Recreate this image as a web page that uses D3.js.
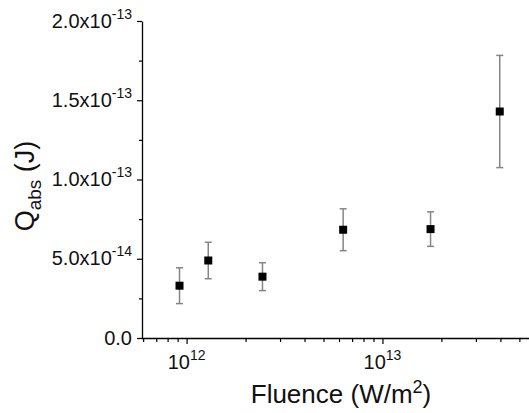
<!DOCTYPE html>
<html>
<head>
<meta charset="utf-8">
<script src="https://cdn.jsdelivr.net/npm/d3@7"></script>
<style>
  html, body { margin: 0; padding: 0; background: #fff; }
  svg { display: block; font-family: "Liberation Sans", Arial, sans-serif; }
</style>
</head>
<body>
<div id="chart"></div>
<script>
// 데이터
const fluence = [9.2e11, 1.29e12, 2.44e12, 6.3e12, 1.76e13, 3.97e13];
const qabs = [3.30e-14, 4.89e-14, 3.87e-14, 6.83e-14, 6.87e-14, 1.429e-13];
const qerr = [1.13e-14, 1.15e-14, 0.88e-14, 1.32e-14, 1.09e-14, 3.54e-14];

const yTicks = [0, 5e-14, 1e-13, 1.5e-13, 2e-13];
const yTickMant = ["0.0", "5.0x10", "1.0x10", "1.5x10", "2.0x10"];
const yTickExp = ["", "-14", "-13", "-13", "-13"];
const yMinor = [2.5e-14, 7.5e-14, 1.25e-13, 1.75e-13];
const xTicks = [1e12, 1e13];
const xTickExp = ["12", "13"];

const width = 529, height = 413;

const svg = d3.select("#chart").append("svg")
  .attr("width", width)
  .attr("height", height);

const x = d3.scaleLog().domain([5.85e11, 5.6e13]).range([141, 529]);
const y = d3.scaleLinear().domain([0, 2e-13]).range([338, 21]);

// 작은 눈금 (x: 각 decade의 2..9)
const xMinor = [];
for (let e = 11; e <= 13; e++) {
  for (let m = 2; m <= 9; m++) {
    const v = m * Math.pow(10, e);
    if (v > x.domain()[0] && v < x.domain()[1]) xMinor.push(v);
  }
}

// x 축
const gx = svg.append("g").attr("transform", "translate(0,338)");
gx.call(d3.axisBottom(x).tickValues(xMinor).tickSize(4).tickSizeOuter(0).tickFormat(""));
gx.call(g => g.select(".domain").remove());
gx.append("g").call(d3.axisBottom(x).tickValues(xTicks).tickSize(6).tickSizeOuter(0).tickFormat(""));
gx.selectAll(".domain").attr("stroke", "#000").attr("stroke-width", 1.3);
gx.selectAll(".tick line").attr("stroke", "#000").attr("stroke-width", 1.2);

xTicks.forEach((v, i) => {
  const t = svg.append("text")
    .attr("x", x(v))
    .attr("y", 369)
    .attr("text-anchor", "middle")
    .attr("font-size", 20)
    .attr("fill", "#111");
  t.append("tspan").text("10");
  t.append("tspan").attr("dy", -9).attr("font-size", 14).text(xTickExp[i]);
});

// y 축
const gy = svg.append("g").attr("transform", "translate(142,0)");
gy.call(d3.axisLeft(y).tickValues(yMinor).tickSize(3).tickSizeOuter(0).tickFormat(""));
gy.call(g => g.select(".domain").remove());
gy.append("g").call(d3.axisLeft(y).tickValues(yTicks).tickSize(5).tickSizeOuter(0).tickFormat(""));
gy.selectAll(".domain").attr("stroke", "#000").attr("stroke-width", 1.3);
gy.selectAll(".tick line").attr("stroke", "#000").attr("stroke-width", 1.2);

yTicks.forEach((v, i) => {
  const t = svg.append("text")
    .attr("x", 132)
    .attr("y", y(v) + 6.5)
    .attr("text-anchor", "end")
    .attr("font-size", 20)
    .attr("fill", "#111");
  t.append("tspan").text(yTickMant[i]);
  if (yTickExp[i]) t.append("tspan").attr("dy", -9).attr("font-size", 14).text(yTickExp[i]);
});

// 축 제목
const yt = svg.append("text")
  .attr("transform", "translate(34,186) rotate(-90)")
  .attr("text-anchor", "middle")
  .attr("font-size", 27)
  .attr("fill", "#111");
yt.append("tspan").text("Q");
yt.append("tspan").attr("dy", 7).attr("font-size", 19).text("abs");
yt.append("tspan").attr("dy", -7).text(" (J)");

const xt = svg.append("text")
  .attr("x", 341)
  .attr("y", 403)
  .attr("text-anchor", "middle")
  .attr("font-size", 26)
  .attr("fill", "#111");
xt.append("tspan").text("Fluence (W/m");
xt.append("tspan").attr("dy", -10).attr("font-size", 18).text("2");
xt.append("tspan").attr("dy", 10).text(")");

// 오차 막대
const pts = fluence.map((f, i) => ({ f, q: qabs[i], e: qerr[i] }));
const eb = svg.append("g").attr("stroke", "#858585").attr("stroke-width", 1.5);
eb.selectAll("line.bar").data(pts).join("line")
  .attr("class", "bar")
  .attr("x1", d => x(d.f)).attr("x2", d => x(d.f))
  .attr("y1", d => y(d.q + d.e)).attr("y2", d => y(d.q - d.e));
eb.selectAll("line.capTop").data(pts).join("line")
  .attr("class", "capTop")
  .attr("x1", d => x(d.f) - 3.5).attr("x2", d => x(d.f) + 3.5)
  .attr("y1", d => y(d.q + d.e)).attr("y2", d => y(d.q + d.e));
eb.selectAll("line.capBot").data(pts).join("line")
  .attr("class", "capBot")
  .attr("x1", d => x(d.f) - 3.5).attr("x2", d => x(d.f) + 3.5)
  .attr("y1", d => y(d.q - d.e)).attr("y2", d => y(d.q - d.e));

// 점
svg.append("g").selectAll("rect").data(pts).join("rect")
  .attr("x", d => x(d.f) - 4)
  .attr("y", d => y(d.q) - 4)
  .attr("width", 8)
  .attr("height", 8)
  .attr("fill", "#000");
</script>
</body>
</html>
